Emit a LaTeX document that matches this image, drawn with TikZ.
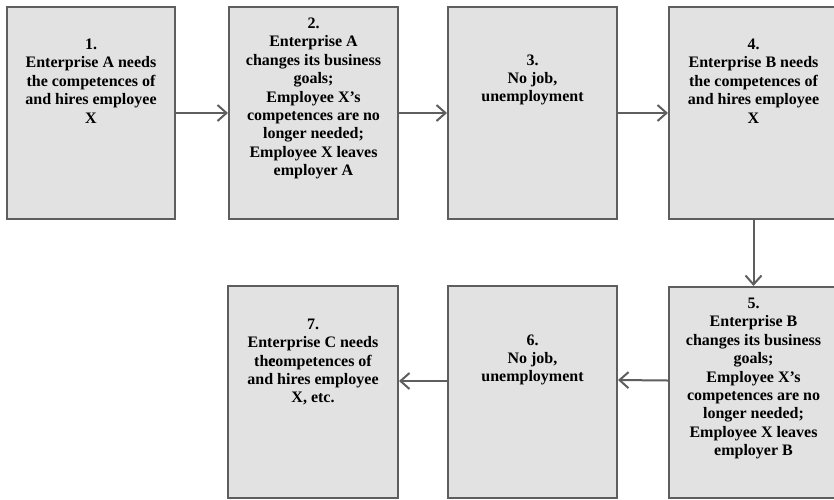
\documentclass[tikz,border=0pt]{standalone}
\usepackage{fontspec}
\setmainfont{Liberation Serif}
\usetikzlibrary{arrows.meta}
\definecolor{boxfill}{HTML}{E2E2E2}
\definecolor{boxline}{HTML}{5E5E5E}
\tikzset{
  stagebox/.style={draw=boxline, fill=boxfill, line width=2pt, rectangle,
    inner sep=0pt, minimum width=168pt, minimum height=212pt},
  stagetext/.style={align=center, inner sep=0pt, text=black,
    font=\bfseries\fontsize{16}{18.4}\selectfont},
  flow/.style={draw=boxline, line width=2pt,
    -{Straight Barb[length=9pt,width=16pt,line width=2pt]}}
}
\begin{document}
\begin{tikzpicture}[x=1pt,y=1pt]
\useasboundingbox (0,0) rectangle (834,-499);
\clip (0,0) rectangle (834,-499);
% boxes
\node[stagebox] (b1) at (91,-113) {};
\node[stagebox, minimum width=169pt] (b2) at (313.5,-113) {};
\node[stagebox, minimum width=169pt] (b3) at (532.5,-113) {};
\node[stagebox, minimum width=169pt] (b4) at (753.5,-113) {};
\node[stagebox, minimum width=169pt, minimum height=211pt] (b5) at (753.5,-392.5) {};
\node[stagebox, minimum width=169pt] (b6) at (532.5,-392) {};
\node[stagebox, minimum width=170pt] (b7) at (313,-392) {};
% texts
\node[stagetext] (t1) at (91,-81) {1.\\Enterprise A needs\\the competences of\\and hires employee\\X};
\node[stagetext] (t2) at (313.5,-98.5) {2.\\Enterprise A\\changes its business\\goals;\\Employee X’s\\competences are no\\longer needed;\\Employee X leaves\\employer A};
\node[stagetext] (t3) at (532.5,-80) {3.\\No job,\\unemployment};
\node[stagetext] (t4) at (753.5,-81) {4.\\Enterprise B needs\\the competences of\\and hires employee\\X};
\node[stagetext] (t5) at (753.5,-378.5) {5.\\Enterprise B\\changes its business\\goals;\\Employee X’s\\competences are no\\longer needed;\\Employee X leaves\\employer B};
\node[stagetext] (t6) at (532.5,-360) {6.\\No job,\\unemployment};
\node[stagetext] (t7) at (313,-362) {7.\\Enterprise C needs\\the\kern-0.45em competences of\\and hires employee\\X, etc.};
% connectors
\draw[flow] (b1.east) -- (b2.west);
\draw[flow] (b2.east) -- (b3.west);
\draw[flow] (b3.east) -- (b4.west);
\draw[flow] (b4.south) -- (b5.north);
\draw[flow] ([yshift=12pt]b5.west) -- ([yshift=12pt]b6.east);
\draw[flow] ([yshift=11pt]b6.west) -- ([yshift=11pt]b7.east);
\end{tikzpicture}
\end{document}
